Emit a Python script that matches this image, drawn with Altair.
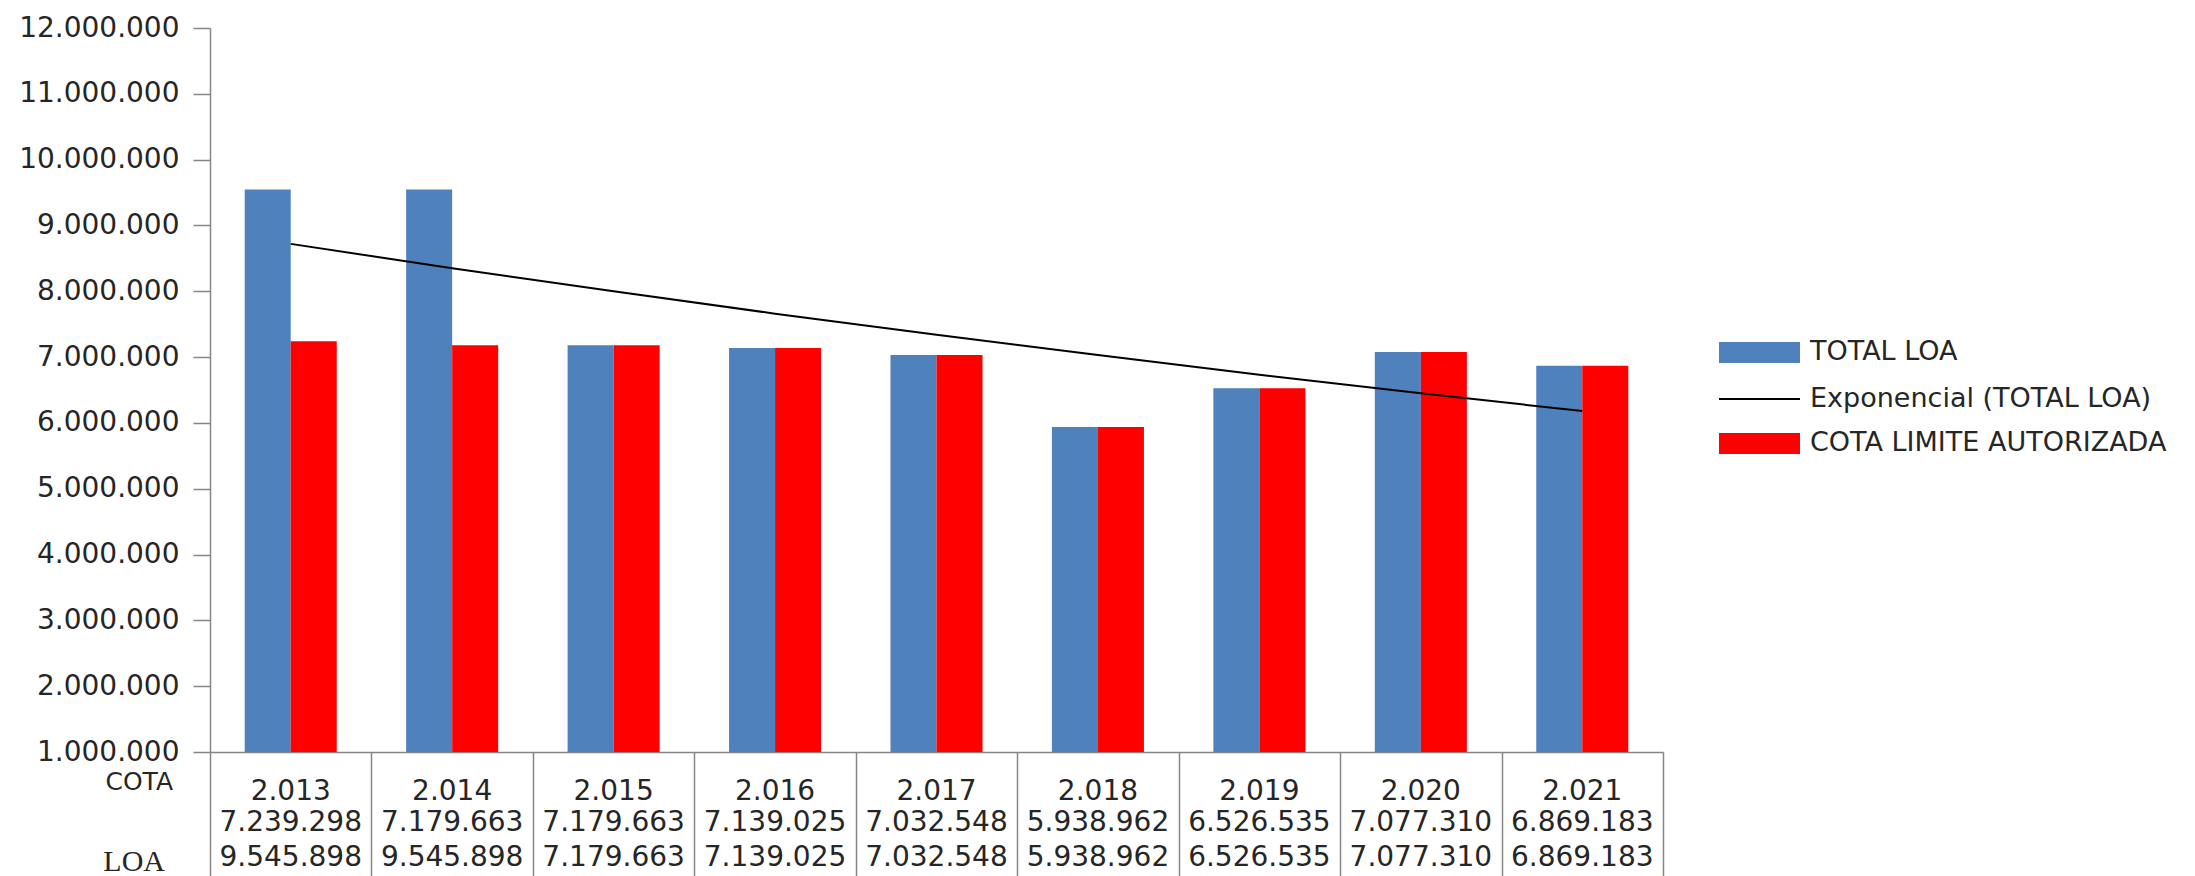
import altair as alt
import pandas as pd

# ---------------- data ----------------
years = [2013, 2014, 2015, 2016, 2017, 2018, 2019, 2020, 2021]
total_loa = [9545898, 9545898, 7179663, 7139025, 7032548, 5938962, 6526535, 7077310, 6869183]
cota_limite = [7239298, 7179663, 7179663, 7139025, 7032548, 5938962, 6526535, 7077310, 6869183]
# exponential trend line of TOTAL LOA at each category centre
trend_exp = [8720000, 8350000, 8000000, 7660000, 7340000, 7030000, 6730000, 6450000, 6180000]

series_names = ["TOTAL LOA", "COTA LIMITE AUTORIZADA"]
series_colors = ["#4F81BD", "#FF0000"]
legend_labels = ["TOTAL LOA", "Exponencial (TOTAL LOA)", "COTA LIMITE AUTORIZADA"]
row_labels = ["COTA", "LOA"]
y_ticks = [1000000, 2000000, 3000000, 4000000, 5000000, 6000000,
           7000000, 8000000, 9000000, 10000000, 11000000, 12000000]


def dots(n):
    return f"{n:,}".replace(",", ".")


year_labels = [dots(y) for y in years]

bars_df = pd.DataFrame({
    "year": year_labels + year_labels,
    "series": [series_names[0]] * len(years) + [series_names[1]] * len(years),
    "value": total_loa + cota_limite,
})
trend_df = pd.DataFrame({"year": year_labels, "trend": trend_exp})
table_df = pd.DataFrame({
    "year": year_labels,
    "cota": [dots(v) for v in cota_limite],
    "loa": [dots(v) for v in total_loa],
})

# ---------------- layout ----------------
W, H = 1453, 724
FONT = "DejaVu Sans"
TXT = "#262626"
GRID = "#868686"

x_axis = alt.Axis(
    title=None, labels=False, tickBand="extent", tickSize=124, tickWidth=1.5,
    tickColor=GRID, domainColor=GRID, domainWidth=1.5,
)
x_enc = alt.X("year:N", sort=year_labels,
              scale=alt.Scale(paddingInner=0, paddingOuter=0), axis=x_axis)

y_axis = alt.Axis(
    title=None, values=y_ticks, grid=False, tickSize=17, tickWidth=1.5,
    tickColor=GRID, domainColor=GRID, domainWidth=1.5,
    labelFont=FONT, labelFontSize=28, labelColor=TXT, labelPadding=14,
    labelExpr="replace(replace(replace(format(datum.value, ',d'), ',', '.'), ',', '.'), ',', '.')",
)
y_scale = alt.Scale(domain=[1000000, 12000000], nice=False, zero=False)

bars = alt.Chart(bars_df).mark_bar().encode(
    x=x_enc,
    xOffset=alt.XOffset("series:N", sort=series_names,
                        scale=alt.Scale(paddingInner=0, paddingOuter=0.754)),
    y=alt.Y("value:Q", scale=y_scale, axis=y_axis),
    y2=alt.datum(1000000),
    color=alt.Color("series:N", scale=alt.Scale(domain=series_names, range=series_colors),
                    legend=None),
)

trend = alt.Chart(trend_df).mark_line(color="black", strokeWidth=2).encode(
    x=alt.X("year:N", sort=year_labels),
    y=alt.Y("trend:Q", scale=y_scale),
)

def table_row(field, dy):
    return alt.Chart(table_df).mark_text(
        font=FONT, fontSize=28, color=TXT, baseline="middle", align="center"
    ).encode(
        x=alt.X("year:N", sort=year_labels),
        y=alt.value(H + dy),
        text=f"{field}:N",
    )

row_year = table_row("year", 40)
row_cota = table_row("cota", 71)
row_loa = table_row("loa", 106)

lbl_cota = alt.Chart(pd.DataFrame({"t": [row_labels[0]]})).mark_text(
    font=FONT, fontSize=25, color=TXT, align="right", baseline="middle"
).encode(x=alt.value(-37), y=alt.value(H + 30), text="t:N")

lbl_loa = alt.Chart(pd.DataFrame({"t": [row_labels[1]]})).mark_text(
    font="Liberation Serif", fontSize=30, color=TXT, align="right", baseline="middle"
).encode(x=alt.value(-45), y=alt.value(H + 110), text="t:N")

# ---------------- legend ----------------
LX0, LX1, LTX = 1509, 1590, 1600
leg_rows = [324, 371, 415]
leg_df = pd.DataFrame({"label": legend_labels})

leg_layers = []
leg_layers.append(
    alt.Chart(leg_df.iloc[[0]]).mark_rect(color=series_colors[0]).encode(
        x=alt.value(LX0), x2=alt.value(LX1),
        y=alt.value(leg_rows[0] - 10), y2=alt.value(leg_rows[0] + 11))
)
leg_layers.append(
    alt.Chart(leg_df.iloc[[1]]).mark_rule(color="black", strokeWidth=2).encode(
        x=alt.value(LX0), x2=alt.value(LX1), y=alt.value(leg_rows[1]))
)
leg_layers.append(
    alt.Chart(leg_df.iloc[[2]]).mark_rect(color=series_colors[1]).encode(
        x=alt.value(LX0), x2=alt.value(LX1),
        y=alt.value(leg_rows[2] - 10), y2=alt.value(leg_rows[2] + 11))
)
for i in range(3):
    leg_layers.append(
        alt.Chart(leg_df.iloc[[i]]).mark_text(
            font=FONT, fontSize=27, color=TXT, align="left", baseline="middle"
        ).encode(x=alt.value(LTX), y=alt.value(leg_rows[i]), text="label:N")
    )

chart = alt.layer(
    bars, trend, row_year, row_cota, row_loa, lbl_cota, lbl_loa, *leg_layers
).properties(
    width=W, height=H,
    padding={"left": 210, "top": 28, "right": 532, "bottom": 124},
    autosize=alt.AutoSizeParams(type="none"),
    background="white",
).configure_view(stroke=None)

chart.save("out.html", embed_options={"renderer": "svg", "actions": False})
